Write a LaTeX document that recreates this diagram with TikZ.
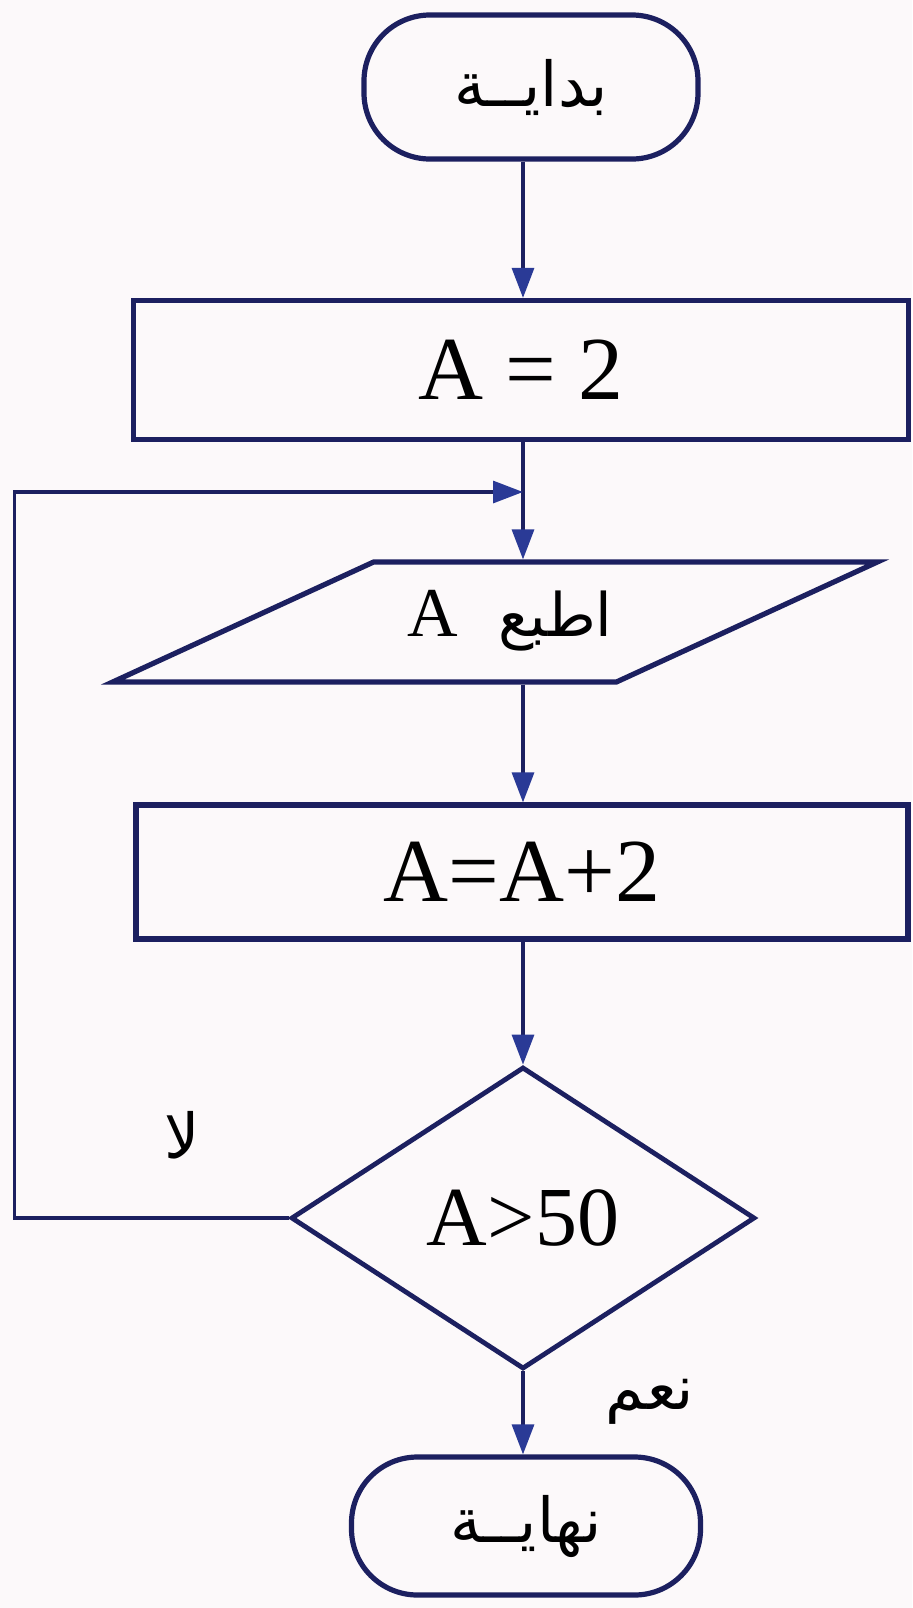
\documentclass[tikz,border=0pt]{standalone}
\usepackage{fontspec}
\setmainfont{Liberation Serif}
\newfontfamily\arabicfont[Script=Arabic]{DejaVu Sans}
\TeXXeTstate=1
\usetikzlibrary{shapes.geometric,arrows.meta}
\definecolor{inkblue}{RGB}{28,32,96}
\definecolor{tipblue}{RGB}{42,58,150}
\definecolor{paper}{RGB}{252,249,250}
\begin{document}
\begin{tikzpicture}[x=0.5pt,y=-0.5pt,
  % Flowchart shapes
  terminal/.style={rectangle, draw=inkblue, line width=2.6pt, rounded corners=33pt, inner sep=0pt, font=\arabicfont\fontsize{31}{36}\selectfont},
  process/.style={rectangle, draw=inkblue, line width=2.6pt, inner sep=0pt, font=\fontsize{45}{52}\selectfont},
  inout/.style={trapezium, trapezium left angle=24.7, trapezium right angle=155.3, draw=inkblue, line width=2.6pt,
    text width=120pt, align=center, text height=22pt, text depth=8pt, inner xsep=0.7pt, inner ysep=15pt},
  decision/.style={diamond, aspect=1.5, draw=inkblue, line width=2.4pt, inner sep=0pt, font=\fontsize{42}{48}\selectfont},
  % Branch labels
  answer/.style={font=\arabicfont\fontsize{31}{36}\selectfont, inner sep=0pt},
  % Connectors
  flow/.style={draw=inkblue, line width=1.6pt, -{Triangle[length=15pt,width=11pt,color=tipblue]}}
]

\useasboundingbox[fill=paper] (0,0) rectangle (912,1608);

% Main column of boxes
\node[terminal, minimum width=167pt, minimum height=72pt] (start) at (531,87) {\beginR بدايــة\endR};
\node[process, minimum width=387.5pt, minimum height=69.5pt] (init) at (521,370) {A = 2};
\node[inout] (print) at (495,622) {\mbox{\hspace*{15pt}{\fontsize{35}{40}\selectfont A}\hspace{20pt}{\arabicfont\fontsize{30}{34}\selectfont\beginR اطبع\endR}}};
\node[process, minimum width=386pt, minimum height=67pt] (incr) at (522,872) {A=A+2};
\node[decision, minimum width=232pt, minimum height=151pt] (test) at (523,1218) {A>50};
\node[terminal, minimum width=174.5pt, minimum height=69pt] (stop) at (526,1526) {\beginR نهايــة\endR};

% Branch labels
\node[answer] (no) at (182,1135) {\beginR لا\endR};
\node[answer] (yes) at (650,1402) {\beginR نعم\endR};

% Loop entry point on the main line
\coordinate (merge) at (523,492);

% Arrows down the column
\draw[flow] (test |- start.south) -- (test |- init.north);
\draw[flow] (test |- init.south) -- (test |- print.north);
\draw[flow] (test |- print.south) -- (test |- incr.north);
\draw[flow] (test |- incr.south) -- (test.north);
\draw[flow] (test.south) -- (test.south |- stop.north);

% Loop back when the test fails
\draw[flow] (test.west) -- ++(-274,0) |- (merge);

\end{tikzpicture}
\end{document}
